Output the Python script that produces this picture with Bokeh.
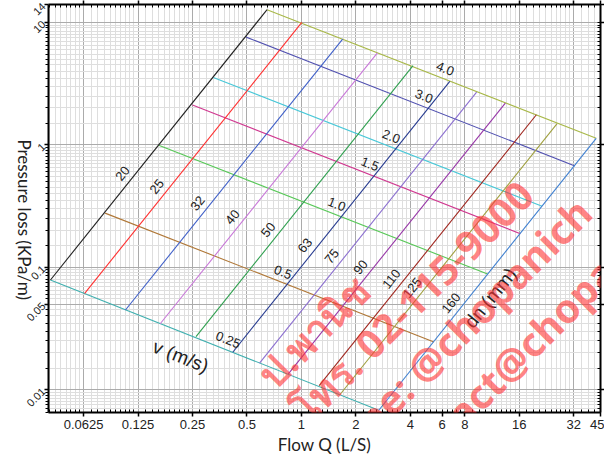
import numpy as np
from bokeh.plotting import figure
from bokeh.models import FixedTicker, LogAxis, CustomJSTickFormatter, Label, Title
from bokeh.core.properties import value
from bokeh.embed import file_html
from bokeh.resources import INLINE

# ---------------- data ----------------
x_ticks = [0.0625, 0.125, 0.25, 0.5, 1, 2, 4, 6, 8, 16, 32, 45]
y_ticks = [0.01, 0.05, 0.1, 1, 10, 14]
x_grid_major = [0.0625, 0.125, 0.25, 0.5, 1, 2, 4, 8, 16, 32]
y_grid_major = [0.01, 0.05, 0.1, 1, 10]

# pipe diameter lines dn (mm): end points on v=0.25 and v=4.0 lines
dn_names = ["20", "25", "32", "40", "50", "63", "75", "90", "110", "125", "160"]
dn_q_low = [0.0410, 0.0634, 0.1065, 0.1658, 0.2615, 0.4174, 0.587, 0.847, 1.254, 1.635, 2.678]
dn_j_low = [0.0786, 0.0612, 0.0447, 0.0345, 0.0271, 0.0202, 0.01648, 0.01344, 0.01077, 0.00912, 0.00678]
dn_q_high = [0.646, 1.005, 1.69, 2.63, 4.14, 6.61, 9.30, 13.4, 19.9, 25.9, 42.6]
dn_j_high = [12.7, 10.0, 7.30, 5.64, 4.43, 3.30, 2.69, 2.19, 1.76, 1.49, 1.13]

# velocity lines v (m/s): end points on dn20 and dn160 lines
v_names = ["0.25", "0.5", "1.0", "1.5", "2.0", "3.0", "4.0"]
v_q_start = [0.0410, 0.0822, 0.1627, 0.250, 0.326, 0.495, 0.646]
v_j_start = [0.0786, 0.2765, 0.991, 2.115, 3.55, 7.58, 12.7]
v_q_end = [2.678, 5.40, 10.69, 16.23, 21.4, 32.5, 42.6]
v_j_end = [0.00678, 0.02453, 0.0879, 0.1875, 0.3148, 0.672, 1.13]

x_title = "Flow Q (L/S)"
y_title = "Pressure loss (KPa/m)"
watermark = ["ป.พานิช", "โทร. 02-115-9000", "Line: @chopanich", "contact@chopanich.com"]

# ---------------- styles / layout ----------------
dn_colors = ["#222222", "#ff3030", "#4060c8", "#c878d8", "#30a050", "#283c90",
             "#8c70d0", "#9838a8", "#a02820", "#a0a040", "#4080d0"]
v_colors = ["#40b0b0", "#b07838", "#58c858", "#d03890", "#48c8d8", "#5050b0", "#a8b848"]

W, H = 604, 454
BL, BR, BT, BB = 44, 2, 1, 40
X_RANGE = (0.04, 45)
Y_RANGE = (0.0065, 14)
Y_TITLE_END = 0.054   # where the rotated y title ends (value on the y scale)
FW, FH = W - BL - BR - 8, H - BT - BB - 8

# minor ticks / grid
x_minor = []
a = 0.03125
while a < 45:
    for k in range(1, 10):
        v = a * (1 + k / 10)
        if X_RANGE[0] <= v <= X_RANGE[1]:
            x_minor.append(v)
    a *= 2
y_minor = []
for e in range(-3, 2):
    for m in np.arange(1.0, 10.0, 0.5):
        v = m * 10.0 ** e
        if Y_RANGE[0] <= v <= Y_RANGE[1]:
            y_minor.append(float(v))

p = figure(width=W, height=H, x_axis_type="log", y_axis_type="log",
           x_range=X_RANGE, y_range=Y_RANGE, output_backend="svg",
           toolbar_location=None, min_border_left=BL, min_border_right=BR,
           min_border_top=BT, min_border_bottom=BB)
p.outline_line_color = None
p.background_fill_color = "white"

fmt = CustomJSTickFormatter(code="return tick.toString();")
blank = CustomJSTickFormatter(code="return '';")

def style_axis(ax, ticks, minor, labels=True):
    ax.ticker = FixedTicker(ticks=ticks, minor_ticks=minor)
    ax.formatter = fmt if labels else blank
    ax.axis_line_width = 2
    ax.axis_line_color = "black"
    ax.major_tick_line_color = "black"
    ax.major_tick_line_width = 1.5
    ax.minor_tick_line_color = "black"
    ax.minor_tick_line_width = 1
    ax.major_label_text_font = "Liberation Sans"
    ax.major_label_text_font_size = "13px" if labels else "0px"
    ax.major_label_text_color = "#222222"
    ax.axis_label = None
    ax.axis_label_standoff = 0

xa = p.xaxis[0]
style_axis(xa, x_ticks, x_minor)
xa.major_tick_in, xa.major_tick_out = 0, 4
xa.minor_tick_in, xa.minor_tick_out = 3, 0
xa.major_label_standoff = 3

# x title as a title panel below the axis (shifted right like the original)
p.add_layout(Title(text=x_title, align="center", offset=10, standoff=0,
                   text_font="Lato", text_font_size="17px", text_font_style="normal",
                   text_color="#222222"), "below")

ya = p.yaxis[0]
style_axis(ya, y_ticks, y_minor)
ya.major_label_text_font_size = "11px"
ya.major_tick_in, ya.major_tick_out = 0, 4
ya.minor_tick_in, ya.minor_tick_out = 0, 3
ya.major_label_orientation = np.pi / 4
ya.major_label_standoff = 1

# outer left axis carrying only the rotated y title (reads top to bottom)
ytitle_ax = LogAxis(ticker=FixedTicker(ticks=[Y_TITLE_END], minor_ticks=[]),
                    formatter=CustomJSTickFormatter(code="return %r;" % y_title))
ytitle_ax.axis_label = None
ytitle_ax.axis_line_color = None
ytitle_ax.major_tick_line_color = None
ytitle_ax.minor_tick_line_color = None
ytitle_ax.major_tick_in, ytitle_ax.major_tick_out = 0, 0
ytitle_ax.minor_tick_in, ytitle_ax.minor_tick_out = 0, 0
ytitle_ax.major_label_orientation = -np.pi / 2
ytitle_ax.major_label_standoff = -5
ytitle_ax.major_label_text_font = "Lato"
ytitle_ax.major_label_text_font_size = "17px"
ytitle_ax.major_label_text_color = "#222222"
p.add_layout(ytitle_ax, "left")

top = LogAxis()
style_axis(top, x_ticks, x_minor, labels=False)
top.major_tick_in, top.major_tick_out = 0, 4
top.minor_tick_in, top.minor_tick_out = 3, 0
top.major_label_standoff = 0
p.add_layout(top, "above")

right = LogAxis()
style_axis(right, y_ticks, y_minor, labels=False)
right.major_tick_in, right.major_tick_out = 0, 4
right.minor_tick_in, right.minor_tick_out = 3, 0
right.major_label_standoff = 0
p.add_layout(right, "right")

p.xgrid.ticker = FixedTicker(ticks=x_grid_major, minor_ticks=x_minor)
p.ygrid.ticker = FixedTicker(ticks=y_grid_major, minor_ticks=y_minor)
for g in (p.xgrid, p.ygrid):
    g.grid_line_color = "#ababab"
    g.grid_line_width = 1
    g.minor_grid_line_color = "#dedede"
    g.minor_grid_line_width = 1

# ---------------- lines ----------------
p.segment(x0=v_q_start, y0=v_j_start, x1=v_q_end, y1=v_j_end,
          line_color=v_colors, line_width=1.1)
p.segment(x0=dn_q_low, y0=dn_j_low, x1=dn_q_high, y1=dn_j_high,
          line_color=dn_colors, line_width=1.1)

# ---------------- labels along lines ----------------
kx = FW / np.log10(X_RANGE[1] / X_RANGE[0])
ky = FH / np.log10(Y_RANGE[1] / Y_RANGE[0])

def lerp_log(a0, a1, t):
    a0, a1 = np.log10(np.asarray(a0, float)), np.log10(np.asarray(a1, float))
    return 10 ** (a0 + t * (a1 - a0))

def sangle(q0, j0, q1, j1):
    return float(np.arctan2(ky * (np.log10(j1) - np.log10(j0)),
                            kx * (np.log10(q1) - np.log10(q0))))

ang_dn = sangle(dn_q_low[0], dn_j_low[0], dn_q_high[0], dn_j_high[0])
ang_v = sangle(v_q_start[0], v_j_start[0], v_q_end[0], v_j_end[0])

def offs(ang, d):
    return -d * np.sin(ang), -d * np.cos(ang)

font = value("Liberation Sans")
ox, oy = offs(ang_dn, 10.5)
p.text(x=lerp_log(dn_q_low, dn_q_high, 0.37), y=lerp_log(dn_j_low, dn_j_high, 0.37),
       text=dn_names, angle=ang_dn, x_offset=ox, y_offset=oy,
       text_align="center", text_baseline="middle", text_font=font,
       text_font_size="13px", text_color="#222222")

ox, oy = offs(ang_v, 10)
p.text(x=lerp_log(v_q_start, v_q_end, 0.53), y=lerp_log(v_j_start, v_j_end, 0.53),
       text=v_names, angle=ang_v, x_offset=ox, y_offset=oy,
       text_align="center", text_baseline="middle", text_font=font,
       text_font_size="13px", text_color="#222222")

ox, oy = offs(ang_v, -23)
p.text(x=[float(lerp_log(v_q_start[0], v_q_end[0], 0.43))],
       y=[float(lerp_log(v_j_start[0], v_j_end[0], 0.43))],
       text=["v  (m/s)"], angle=ang_v, x_offset=ox, y_offset=oy,
       text_align="center", text_baseline="middle", text_font=font,
       text_font_size="19px", text_color="#222222")

ox, oy = offs(ang_dn, -17)
p.text(x=[float(lerp_log(dn_q_low[-1], dn_q_high[-1], 0.46))],
       y=[float(lerp_log(dn_j_low[-1], dn_j_high[-1], 0.46))],
       text=["dn  (mm)"], angle=ang_dn, x_offset=ox, y_offset=oy,
       text_align="center", text_baseline="middle", text_font=font,
       text_font_size="19px", text_color="#222222")

# ---------------- watermark ----------------
wm_pos = [(216, 32), (250, -2), (290, -38), (342, -70)]
for txt, (wx, wy) in zip(watermark, wm_pos):
    p.add_layout(Label(x=wx, y=wy, x_units="screen", y_units="screen", text=txt,
                       angle=np.pi / 4, text_align="left", text_baseline="middle",
                       text_font="Noto Sans", text_font_style="bold",
                       text_font_size="40px", text_color="#ff3333", text_alpha=0.6))

open("out.html", "w").write(file_html(p, INLINE))
